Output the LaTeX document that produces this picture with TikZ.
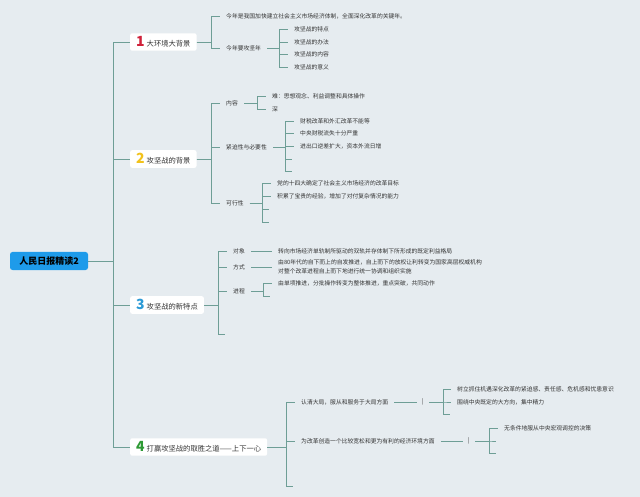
\documentclass[tikz,border=0pt]{standalone}
\usepackage{fontspec}
\setmainfont{Noto Sans CJK SC}
\definecolor{bgc}{HTML}{E6ECF0}
\definecolor{linec}{HTML}{6E9E96}
\definecolor{txtc}{HTML}{333333}
\definecolor{rootc}{HTML}{1E9BEA}
\definecolor{onec}{HTML}{D0213A}
\definecolor{twoc}{HTML}{F2C21B}
\definecolor{threec}{HTML}{2B9AD6}
\definecolor{fourc}{HTML}{2E9A35}
\tikzset{
  conn/.style={draw=linec,line width=0.8pt},
  leaf/.style={anchor=west,text=txtc,inner xsep=6pt,inner ysep=1pt,font=\fontsize{5.8}{8.5}\selectfont},
  tally/.style={text=txtc,inner xsep=5.5pt,inner ysep=1pt,font=\fontsize{5.8}{8}\selectfont},
  branch/.style={anchor=west,fill=white,rounded corners=2pt,text=txtc,inner xsep=6pt,minimum height=14pt,font=\fontsize{7.3}{9}\selectfont},
  rootbox/.style={fill=rootc,rounded corners=2.5pt,minimum width=78pt,minimum height=18pt,font=\bfseries\fontsize{9}{10}\selectfont}
}
\def\num#1#2{{\color{#1}\bfseries\fontsize{14}{14}\selectfont #2}\hspace{2pt}}
\def\link#1#2#3{
  % 1: parent
  % 2: fork
  % 3: child
  \draw[conn] (#1.east) -- (#2 |- #1.east) |- (#3);
}
\begin{document}
\begin{tikzpicture}[x=1pt,y=-1pt]
    \useasboundingbox (0,0) rectangle (640,497);
    \fill[bgc] (0,0) rectangle (640,497);

    \node[rootbox] (root) at (49,261) {人民日报精读2};
    \node[branch] (b1) at (130,42) {\num{onec}{1}大环境大背景};
    \node[branch] (b2) at (130,159) {\num{twoc}{2}攻坚战的背景};
    \node[branch] (b3) at (130,305) {\num{threec}{3}攻坚战的新特点};
    \node[branch] (b4) at (130,447) {\num{fourc}{4}打赢攻坚战的取胜之道——上下一心};

    % forks, only x counts
    \coordinate (k0) at (113,0);
    \coordinate (k1) at (211,0);  \coordinate (k12) at (279,0);
    \coordinate (k2) at (211,0);  \coordinate (k21) at (257,0);
    \coordinate (k22) at (285,0); \coordinate (k23) at (262,0);
    \coordinate (k3) at (218,0);  \coordinate (k33) at (263,0);
    \coordinate (k4) at (286,0);  \coordinate (k41) at (443,0);
    \coordinate (k42) at (489,0);

    % 1
    \node[leaf] (c11) at (220,16) {今年是我国加快建立社会主义市场经济体制，全面深化改革的关键年。};
    \node[leaf] (c12) at (220,48) {今年要攻坚年};
    \node[leaf] (d121) at (288,29) {攻坚战的特点};
    \node[leaf] (d122) at (288,42) {攻坚战的办法};
    \node[leaf] (d123) at (288,54) {攻坚战的内容};
    \node[leaf] (d124) at (288,67) {攻坚战的意义};

    % 2
    \node[leaf] (c21) at (220,103) {内容};
    \node[leaf] (c22) at (220,147) {紧迫性与必要性};
    \node[leaf] (c23) at (220,203) {可行性};
    \node[leaf] (d211) at (266,96) {难：思想观念、利益调整和具体操作};
    \node[leaf] (d212) at (266,109) {深};
    \node[leaf] (d221) at (294,121) {财税改革和外汇改革不能等};
    \node[leaf] (d222) at (294,133.5) {中央财税流失十分严重};
    \node[leaf] (d223) at (294,146) {进出口逆差扩大，资本外流日增};
    \coordinate (d224) at (292,159);
    \coordinate (d225) at (292,171);
    \node[leaf] (d231) at (271,183) {党的十四大确定了社会主义市场经济的改革目标};
    \node[leaf] (d232) at (271,196) {积累了宝贵的经验，增加了对付复杂情况的能力};
    \coordinate (d233) at (269,209);
    \coordinate (d234) at (269,222);

    % 3
    \node[leaf] (c31) at (227,251) {对象};
    \node[leaf] (c32) at (227,267) {方式};
    \node[leaf] (c33) at (227,291) {进程};
    \coordinate (c34) at (225,334);
    \node[leaf] (d31) at (272,251) {转向市场经济单轨制所驱动的双轨并存体制下所形成的既定利益格局};
    \node[leaf,align=left] (d32) at (272,267) {由80年代的自下而上的自发推进，自上而下的放权让利转变为国家高层权威机构\\对整个改革进程自上而下地进行统一协调和组织实施};
    \node[leaf] (d331) at (272,283) {由单项推进，分批操作转变为整体推进，重点突破，共同动作};
    \coordinate (d332) at (270,296);

    % 4
    \node[leaf] (c41) at (295,402) {认清大局，服从和服务于大局方面};
    \node[leaf] (c42) at (295,441) {为改革创造一个比较宽松和更为有利的经济环境方面};
    \coordinate (c43) at (293,486);
    \node[tally] (m41) at (423,402) {|};
    \node[tally] (m42) at (469,441) {|};
    \node[leaf] (d411) at (451,389) {树立抓住机遇深化改革的紧迫感、责任感、危机感和忧患意识};
    \node[leaf] (d412) at (451,402) {围绕中央既定的大方向，集中精力};
    \coordinate (d413) at (450,414);
    \node[leaf] (d421) at (498,428) {无条件地服从中央宏观调控的决策};
    \coordinate (d422) at (496,441);
    \coordinate (d423) at (496,453);

    \link{root}{k0}{b1} \link{root}{k0}{b2} \link{root}{k0}{b3} \link{root}{k0}{b4}
    \link{b1}{k1}{c11} \link{b1}{k1}{c12}
    \link{c12}{k12}{d121} \link{c12}{k12}{d122} \link{c12}{k12}{d123} \link{c12}{k12}{d124}
    \link{b2}{k2}{c21} \link{b2}{k2}{c22} \link{b2}{k2}{c23}
    \link{c21}{k21}{d211} \link{c21}{k21}{d212}
    \link{c22}{k22}{d221} \link{c22}{k22}{d222} \link{c22}{k22}{d223} \link{c22}{k22}{d224} \link{c22}{k22}{d225}
    \link{c23}{k23}{d231} \link{c23}{k23}{d232} \link{c23}{k23}{d233} \link{c23}{k23}{d234}
    \link{b3}{k3}{c31} \link{b3}{k3}{c32} \link{b3}{k3}{c33} \link{b3}{k3}{c34}
    \draw[conn] (c31) -- (d31);
    \draw[conn] (c32) -- (c32 -| d32.west);
    \link{c33}{k33}{d331} \link{c33}{k33}{d332}
    \link{b4}{k4}{c41} \link{b4}{k4}{c42} \link{b4}{k4}{c43}
    \draw[conn] (c41) -- (m41);
    \draw[conn] (c42) -- (m42);
    \link{m41}{k41}{d411} \link{m41}{k41}{d412} \link{m41}{k41}{d413}
    \link{m42}{k42}{d421} \link{m42}{k42}{d422} \link{m42}{k42}{d423}
\end{tikzpicture}
\end{document}
